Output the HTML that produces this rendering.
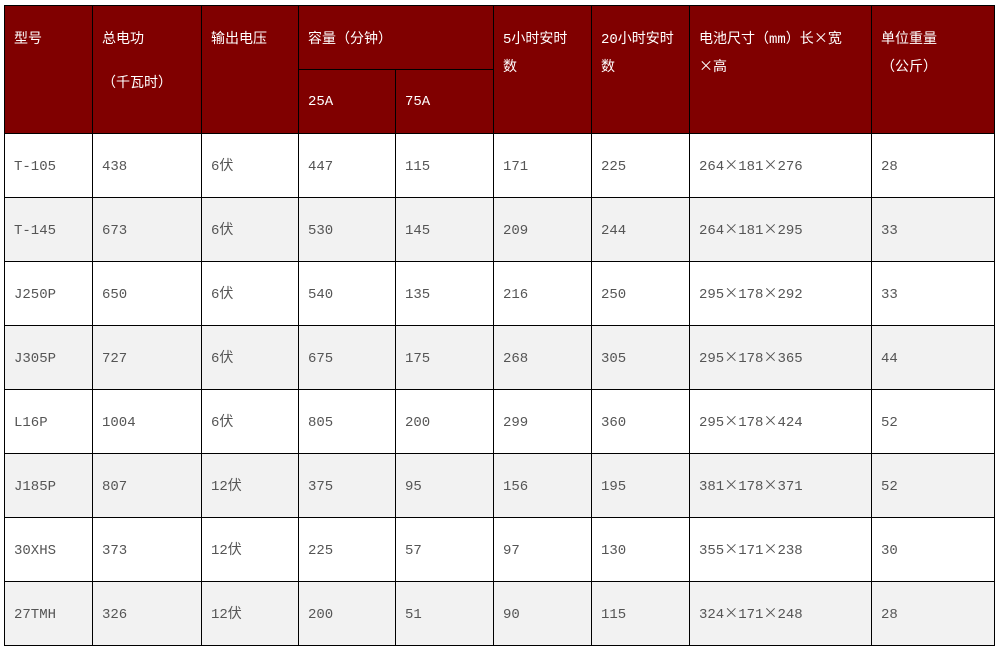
<!DOCTYPE html>
<html><head><meta charset="utf-8"><style>
body{margin:0;background:#fff;width:996px;height:648px;overflow:hidden}
table{position:absolute;left:4px;top:5px;border-collapse:collapse;table-layout:fixed;font-family:"Liberation Mono","WenQuanYi Zen Hei",monospace;font-size:14px}
td{border:1px solid #000;padding:3px 0 0 9px;vertical-align:middle;color:#555;height:60px;overflow:hidden;white-space:nowrap;line-height:16px}
thead td{background:#800000;color:#fff;vertical-align:top;padding:20px 18px 0 9px;line-height:28px;white-space:normal;word-break:break-all}
thead td.sub{vertical-align:middle;padding-top:0;height:63px}
thead td.top{height:43px}
thead td.n{padding-right:4px}
.x{font-family:"WenQuanYi Zen Hei","Noto Sans CJK SC",sans-serif;line-height:0}
tbody tr:nth-child(even) td{background:#f2f2f2}
</style></head><body>
<table>
<colgroup><col style="width:88px"><col style="width:109px"><col style="width:97px"><col style="width:97px"><col style="width:98px"><col style="width:98px"><col style="width:98px"><col style="width:182px"><col style="width:123px"></colgroup>
<thead>
<tr>
<td rowspan="2">型号</td>
<td rowspan="2">总电功<div style="margin-top:16px">（千瓦时）</div></td>
<td rowspan="2">输出电压</td>
<td colspan="2" class="top">容量（分钟）</td>
<td rowspan="2">5小时安时<br>数</td>
<td rowspan="2" class="n">20小时安时<br>数</td>
<td rowspan="2" class="n">电池尺寸（mm）长<span class="x">×</span>宽<br><span class="x">×</span>高</td>
<td rowspan="2">单位重量<br>（公斤）</td>
</tr>
<tr>
<td class="sub">25A</td>
<td class="sub">75A</td>
</tr>
</thead>
<tbody>
<tr><td>T-105</td><td>438</td><td>6伏</td><td>447</td><td>115</td><td>171</td><td>225</td><td>264<span class="x">×</span>181<span class="x">×</span>276</td><td>28</td></tr>
<tr><td>T-145</td><td>673</td><td>6伏</td><td>530</td><td>145</td><td>209</td><td>244</td><td>264<span class="x">×</span>181<span class="x">×</span>295</td><td>33</td></tr>
<tr><td>J250P</td><td>650</td><td>6伏</td><td>540</td><td>135</td><td>216</td><td>250</td><td>295<span class="x">×</span>178<span class="x">×</span>292</td><td>33</td></tr>
<tr><td>J305P</td><td>727</td><td>6伏</td><td>675</td><td>175</td><td>268</td><td>305</td><td>295<span class="x">×</span>178<span class="x">×</span>365</td><td>44</td></tr>
<tr><td>L16P</td><td>1004</td><td>6伏</td><td>805</td><td>200</td><td>299</td><td>360</td><td>295<span class="x">×</span>178<span class="x">×</span>424</td><td>52</td></tr>
<tr><td>J185P</td><td>807</td><td>12伏</td><td>375</td><td>95</td><td>156</td><td>195</td><td>381<span class="x">×</span>178<span class="x">×</span>371</td><td>52</td></tr>
<tr><td>30XHS</td><td>373</td><td>12伏</td><td>225</td><td>57</td><td>97</td><td>130</td><td>355<span class="x">×</span>171<span class="x">×</span>238</td><td>30</td></tr>
<tr><td>27TMH</td><td>326</td><td>12伏</td><td>200</td><td>51</td><td>90</td><td>115</td><td>324<span class="x">×</span>171<span class="x">×</span>248</td><td>28</td></tr>
</tbody>
</table>
</body></html>
